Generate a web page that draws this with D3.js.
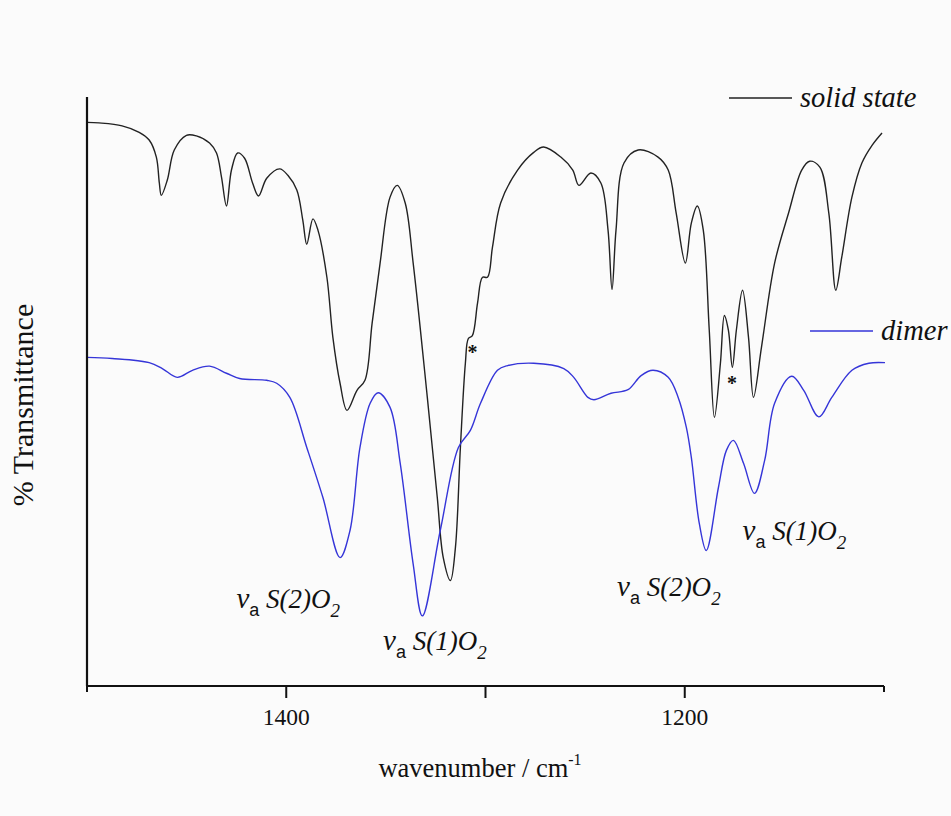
<!DOCTYPE html>
<html>
<head>
<meta charset="utf-8">
<script src="https://cdn.jsdelivr.net/npm/d3@7"></script>
<style>
  body { margin: 0; background: #fbfbfb; }
  text { font-family: "Liberation Serif", "Times New Roman", "DejaVu Serif", serif; }
</style>
</head>
<body>
<div id="chart"></div>
<script>
// IR spectra: wavenumber (cm-1) and % transmittance (arbitrary offset)
const solidWn = [1500, 1494, 1482.4, 1473.8, 1468.8, 1465.2, 1463.7, 1462.7, 1459.7, 1456.2, 1450.1, 1445.1,
  1438.5, 1435, 1432.5, 1430, 1427.5, 1424.4, 1420.9, 1416.9, 1413.9, 1409.8, 1403.3, 1399.2, 1394.7,
  1391.7, 1389.7, 1386.6, 1384.1, 1379.6, 1376.6, 1373, 1369.5, 1364.5, 1360.5, 1356.9, 1352.9, 1347.9,
  1344.3, 1340.3, 1336.3, 1329.2, 1324.2, 1321.2, 1317.6, 1315.1, 1312.6, 1310.1, 1308.6, 1306.6, 1304,
  1301.5, 1299, 1296.5, 1292.4, 1283.9, 1275.8, 1270.8, 1262.2, 1256.2, 1253.1, 1247.1, 1242.1, 1238.5,
  1236.5, 1234.5, 1230.5, 1223.4, 1213.4, 1208.3, 1204.3, 1199.7, 1196.7, 1193.7, 1190.7, 1187.7, 1185.1,
  1182.1, 1180.1, 1178.1, 1176.1, 1174.1, 1171, 1168, 1165.5, 1161.5, 1154.9, 1147.9, 1141.3, 1137.3,
  1132.2, 1127.7, 1124.2, 1121.2, 1116.1, 1111.1, 1106, 1101];
const solidT = [95.7, 95.6, 95.1, 94.0, 92.7, 89.8, 85.4, 83.3, 85.9, 91.0, 93.5, 93.4,
  92.2, 90.5, 86.4, 81.5, 87.6, 90.5, 89.6, 85.4, 83.2, 86.2, 87.8, 86.7, 84.2,
  79.1, 75.0, 79.3, 77.4, 69.4, 59.2, 51.4, 46.8, 50.2, 51.9, 61.6, 71.8, 83.0,
  85.0, 82.0, 71.8, 49.0, 32.0, 21.8, 17.9, 23.5, 40.5, 54.8, 59.0, 59.5, 65.0,
  69.4, 69.4, 74.5, 82.0, 87.6, 90.6, 91.5, 89.8, 87.6, 85.0, 87.1, 85.4, 77.4,
  67.3, 77.4, 88.8, 91.0, 89.8, 87.6, 80.3, 71.8, 78.6, 81.5, 77.4, 60.4, 45.6,
  54.8, 62.9, 60.4, 54.1, 60.4, 67.2, 59.2, 49.0, 57.5, 71.8, 80.3, 87.6, 89.1,
  88.1, 80.3, 67.2, 72.8, 83.0, 88.8, 91.8, 93.9];

const dimerWn = [1500, 1487.4, 1468.8, 1462.2, 1454.7, 1447.1, 1438.5, 1430, 1423.4, 1409.8, 1404.8,
  1398.2, 1389.7, 1381.6, 1373, 1368, 1363, 1357.9, 1353.9, 1347.9, 1342.8, 1336.3, 1331.7, 1322.7,
  1313.6, 1307.6, 1302.5, 1294, 1288.9, 1275.8, 1260.7, 1255.7, 1248.6, 1245.6, 1237, 1228.5, 1221.9,
  1215.9, 1208.3, 1203.3, 1199.2, 1196.7, 1192.7, 1189.2, 1183.1, 1179.1, 1175.6, 1170.5, 1165,
  1159.9, 1154.9, 1146.3, 1140.3, 1132.7, 1126.2, 1116.1, 1107.6, 1099.5];
const dimerT = [55.8, 55.6, 54.9, 53.9, 52.4, 53.6, 54.3, 53.1, 52.2, 51.9, 51.4,
  49.0, 40.5, 32.0, 21.8, 26.4, 40.5, 48.0, 49.8, 47.3, 37.8, 20.7, 11.9, 26.4,
  40.5, 43.4, 48.0, 53.6, 54.4, 54.8, 53.9, 52.4, 49.0, 48.6, 49.7, 50.3, 52.7,
  53.6, 52.4, 49.0, 43.9, 38.8, 27.6, 23.0, 33.7, 40.0, 41.7, 37.8, 32.7,
  38.3, 48.0, 52.6, 50.2, 45.7, 49.0, 53.6, 54.8, 54.9];

// band assignments (text start point) and starred shoulders
const bandLabels = [
  { wn: 1425.0, t: 13.2, num: "2" },
  { wn: 1351.4, t: 6.1, num: "1" },
  { wn: 1234.0, t: 15.3, num: "2" },
  { wn: 1171.0, t: 24.8, num: "1" }
];
const stars = [{ wn: 1306.5, t: 55.5 }, { wn: 1176.3, t: 50.2 }];

const xTicks = [1500, 1400, 1300, 1200, 1100];
const xTickLabels = { 1400: "1400", 1200: "1200" };

const W = 951, H = 816;
const margin = { left: 87, right: 67, top: 97, bottom: 130 };
const SERIF = "Liberation Serif, Times New Roman, serif";

const svg = d3.select("#chart").append("svg")
    .attr("width", W).attr("height", H)
    .attr("font-family", SERIF);

const x = d3.scaleLinear().domain([1500, 1100]).range([margin.left, W - margin.right]);
const y = d3.scaleLinear().domain([0, 100]).range([H - margin.bottom, margin.top]);

const line = d3.line()
    .x(d => x(d[0])).y(d => y(d[1]))
    .curve(d3.curveCatmullRom.alpha(0.5));

svg.append("path")
    .datum(d3.zip(solidWn, solidT))
    .attr("d", line)
    .attr("fill", "none").attr("stroke", "#222").attr("stroke-width", 1.4);

svg.append("path")
    .datum(d3.zip(dimerWn, dimerT))
    .attr("d", line)
    .attr("fill", "none").attr("stroke", "#3535d8").attr("stroke-width", 1.4);

// axes: left line without ticks, bottom with ticks
const y0 = y(0);
svg.append("line")
    .attr("x1", x(1500)).attr("x2", x(1500)).attr("y1", y(100)).attr("y2", y0)
    .attr("stroke", "#111").attr("stroke-width", 2.2);
svg.append("line")
    .attr("x1", x(1500) - 1).attr("x2", x(1100)).attr("y1", y0).attr("y2", y0)
    .attr("stroke", "#111").attr("stroke-width", 2.2);

svg.append("g").selectAll("line").data(xTicks).join("line")
    .attr("x1", d => x(d)).attr("x2", d => x(d))
    .attr("y1", y0).attr("y2", d => y0 + (d === 1500 || d === 1100 ? 6 : 12))
    .attr("stroke", "#111").attr("stroke-width", 2);

svg.append("g").selectAll("text").data(xTicks.filter(d => xTickLabels[d])).join("text")
    .attr("x", d => x(d)).attr("y", y0 + 39)
    .attr("text-anchor", "middle").attr("font-size", 23.5).attr("fill", "#111")
    .text(d => xTickLabels[d]);

// axis titles
const xt = svg.append("text")
    .attr("x", 480).attr("y", 777)
    .attr("text-anchor", "middle").attr("font-size", 26.5).attr("fill", "#111");
xt.append("tspan").text("wavenumber / cm");
xt.append("tspan").attr("dy", -12).attr("font-size", 16).text("-1");

svg.append("text")
    .attr("transform", "translate(33,405) rotate(-90)")
    .attr("text-anchor", "middle").attr("font-size", 30).attr("fill", "#111")
    .text("% Transmittance");

// legend
const legend = [
  { name: "solid state", color: "#222", ly: 98, lx: 729 },
  { name: "dimer", color: "#3535d8", ly: 331, lx: 810 }
];
legend.forEach(l => {
  svg.append("line")
      .attr("x1", l.lx).attr("x2", l.lx + 63).attr("y1", l.ly).attr("y2", l.ly)
      .attr("stroke", l.color).attr("stroke-width", 1.4);
  svg.append("text")
      .attr("x", l.lx + 71).attr("y", l.ly + 9)
      .attr("font-size", 28.5).attr("font-style", "italic").attr("fill", "#111")
      .text(l.name);
});

// band labels: nu_a S(n)O_2
bandLabels.forEach(b => {
  const t = svg.append("text")
      .attr("x", x(b.wn)).attr("y", y(b.t))
      .attr("font-size", 27).attr("fill", "#111");
  t.append("tspan").attr("font-style", "italic").attr("font-size", 29).text("ν");
  t.append("tspan").attr("dy", 8).attr("font-size", 18)
      .attr("font-family", "Liberation Sans, Arial, sans-serif").text("a");
  t.append("tspan").attr("dy", -8).attr("font-style", "italic").text(` S(${b.num})O`);
  t.append("tspan").attr("dy", 9).attr("font-size", 19).attr("font-style", "italic").text("2");
});

svg.append("g").selectAll("text").data(stars).join("text")
    .attr("x", d => x(d.wn)).attr("y", d => y(d.t))
    .attr("text-anchor", "middle").attr("font-size", 20).attr("font-weight", "bold")
    .attr("font-family", "DejaVu Sans, sans-serif").attr("fill", "#111")
    .text("*");
</script>
</body>
</html>
